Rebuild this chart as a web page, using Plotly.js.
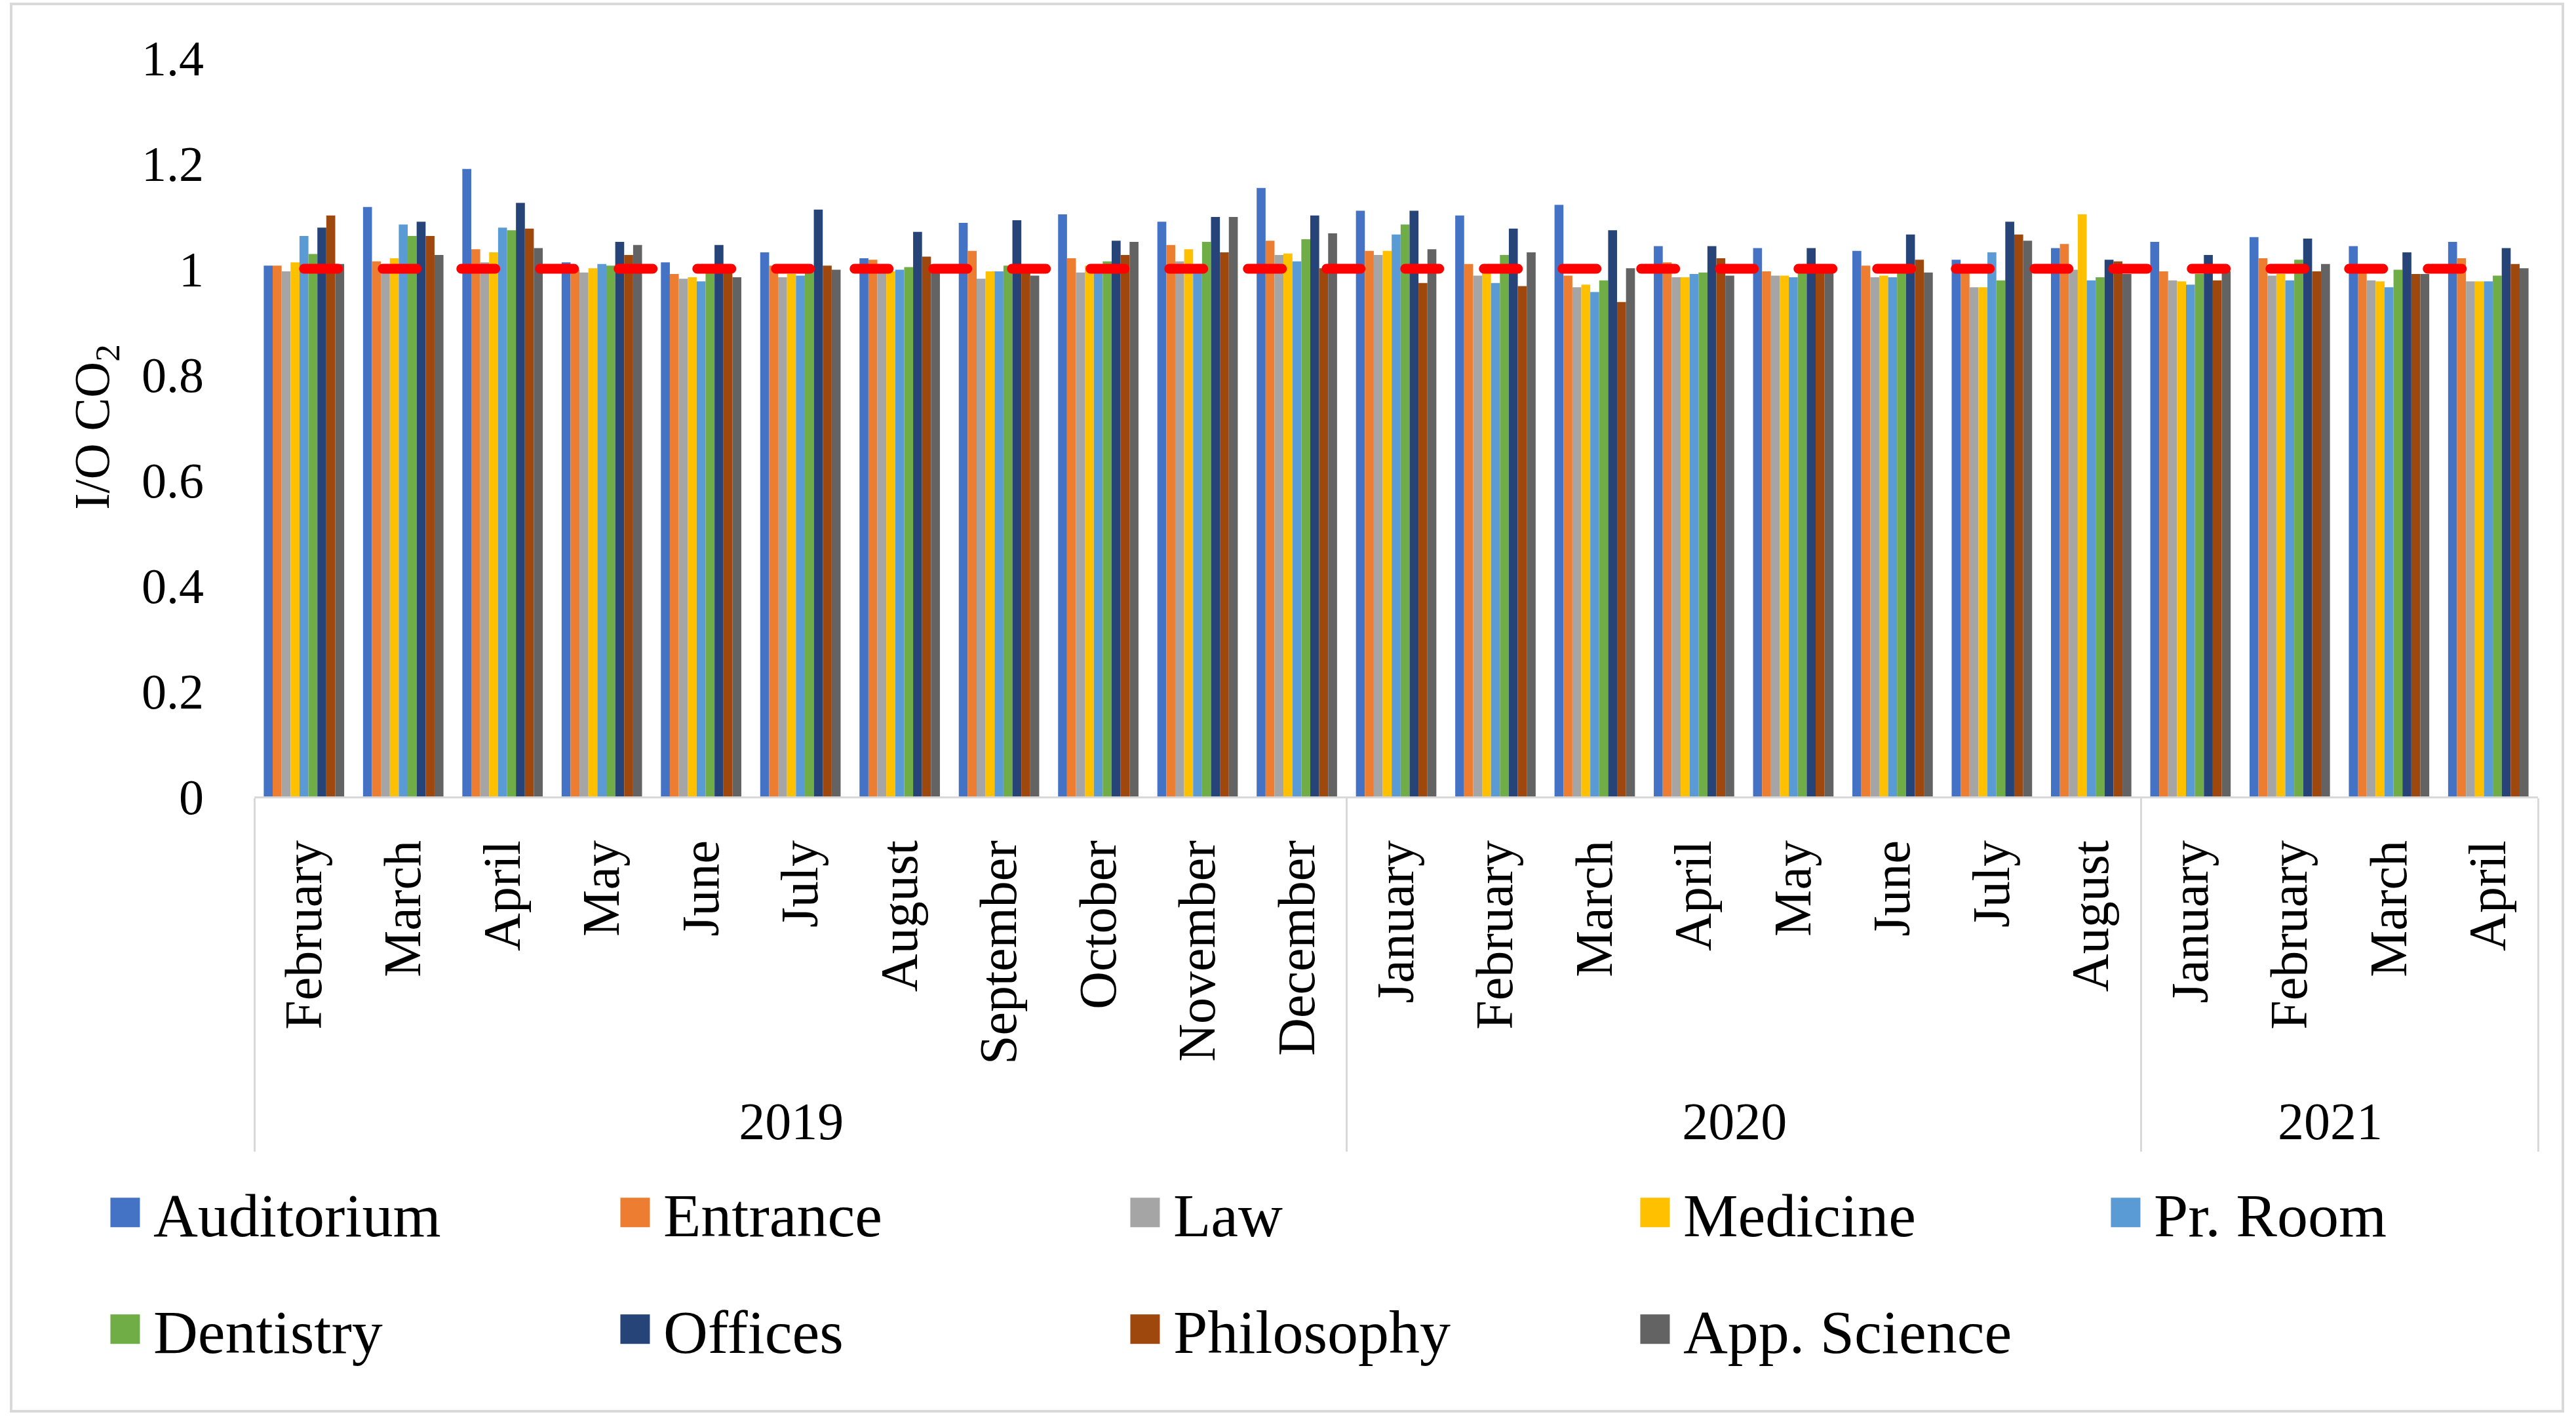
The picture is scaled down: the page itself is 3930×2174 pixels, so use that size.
<!DOCTYPE html>
<html>
<head>
<meta charset="utf-8">
<script src="https://cdn.plot.ly/plotly-3.0.1.min.js"></script>
<style>
  html, body { margin: 0; padding: 0; background: #fff; }
  #divPlot { width: 3930px; height: 2174px; }
  #frame { position: absolute; left: 15px; top: 4px; width: 3897px; height: 2151px;
           border: 4px solid #d9d9d9; box-sizing: border-box; pointer-events: none; }
</style>
</head>
<body>
<div id="divPlot"></div>
<div id="frame"></div>
<script>
// outer / inner category levels
const years = ['2019', '2019', '2019', '2019', '2019', '2019', '2019', '2019', '2019', '2019', '2019',
               '2020', '2020', '2020', '2020', '2020', '2020', '2020', '2020',
               '2021', '2021', '2021', '2021'];
const months = ['February', 'March', 'April', 'May', 'June', 'July', 'August', 'September', 'October',
                'November', 'December',
                'January', 'February', 'March', 'April', 'May', 'June', 'July', 'August',
                'January', 'February', 'March', 'April'];

// I/O CO2 ratio per building
const auditorium = [1.006, 1.117, 1.189, 1.012, 1.012, 1.031, 1.020, 1.087, 1.103, 1.089, 1.153,
                    1.110, 1.101, 1.121, 1.043, 1.039, 1.034, 1.017, 1.039, 1.051, 1.060, 1.043, 1.051];
const entrance   = [1.006, 1.014, 1.037, 0.998, 0.990, 1.006, 1.017, 1.034, 1.020, 1.045, 1.053,
                    1.034, 1.009, 0.987, 1.012, 0.995, 1.006, 0.995, 1.047, 0.995, 1.020, 1.003, 1.020];
const law        = [0.995, 0.998, 1.012, 0.993, 0.981, 0.984, 0.998, 0.981, 0.993, 1.014, 1.026,
                    1.026, 0.987, 0.965, 0.984, 0.987, 0.984, 0.965, 0.998, 0.978, 0.987, 0.978, 0.976];
const medicine   = [1.012, 1.020, 1.031, 1.001, 0.984, 0.990, 0.995, 0.995, 1.006, 1.037, 1.029,
                    1.034, 0.995, 0.970, 0.984, 0.987, 0.987, 0.965, 1.103, 0.976, 0.990, 0.976, 0.976];
const prRoom     = [1.062, 1.084, 1.078, 1.009, 0.976, 0.987, 0.998, 0.995, 0.998, 0.998, 1.014,
                    1.065, 0.973, 0.956, 0.990, 0.984, 0.984, 1.031, 0.978, 0.970, 0.978, 0.965, 0.976];
const dentistry  = [1.028, 1.062, 1.073, 1.006, 0.995, 0.995, 1.003, 1.006, 1.014, 1.051, 1.056,
                    1.084, 1.026, 0.978, 0.993, 0.993, 0.995, 0.978, 0.984, 0.990, 1.017, 0.998, 0.987];
const offices    = [1.078, 1.089, 1.125, 1.051, 1.045, 1.112, 1.070, 1.092, 1.053, 1.098, 1.101,
                    1.110, 1.076, 1.073, 1.043, 1.039, 1.065, 1.089, 1.017, 1.026, 1.057, 1.031, 1.039];
const philosophy = [1.101, 1.062, 1.076, 1.026, 0.995, 1.006, 1.023, 0.995, 1.026, 1.031, 1.001,
                    0.973, 0.967, 0.937, 1.020, 0.995, 1.017, 1.065, 1.014, 0.978, 0.995, 0.990, 1.009];
const appScience = [1.009, 1.026, 1.039, 1.045, 0.984, 0.998, 0.998, 0.987, 1.051, 1.098, 1.067,
                    1.037, 1.031, 1.001, 0.987, 0.995, 0.993, 1.053, 0.990, 0.995, 1.009, 0.990, 1.001];
// reference level I/O = 1
const reference  = [1, 1, 1, 1, 1, 1, 1, 1, 1, 1, 1, 1, 1, 1, 1, 1, 1, 1, 1, 1, 1, 1, 1];

const seriesNames = ['Auditorium', 'Entrance', 'Law', 'Medicine', 'Pr. Room',
                     'Dentistry', 'Offices', 'Philosophy', 'App. Science'];
const seriesValues = [auditorium, entrance, law, medicine, prRoom,
                      dentistry, offices, philosophy, appScience];
const seriesColors = ['#4472C4', '#ED7D31', '#A5A5A5', '#FFC000', '#5B9BD5',
                      '#70AD47', '#264478', '#9E480E', '#636363'];
// legend row/column of each series (5 columns, last one of row 1 kept apart so it fits)
const seriesLegend = ['legend', 'legend', 'legend', 'legend', 'legend3',
                      'legend2', 'legend2', 'legend2', 'legend2'];

const FONT = '"Liberation Serif", "DejaVu Serif", serif';

// multicategory orders inner labels by first appearance over all years,
// so repeated month names get an invisible zero-width suffix per year
const yearList = ['2019', '2020', '2021'];
const monthKeys = months.map((m, i) => m + '\u200B'.repeat(yearList.indexOf(years[i])));
const xCats = [years, monthKeys];

const data = seriesNames.map((name, i) => ({
  type : 'bar',
  name : name,
  x : xCats,
  y : seriesValues[i],
  marker : {color : seriesColors[i], line : {width : 0}},
  legend : seriesLegend[i]
}));

data.push({
  type : 'scatter',
  mode : 'lines',
  x : xCats,
  y : reference,
  line : {color : '#FF0000', width : 15, dash : '52px,68px'},
  showlegend : false,
  hoverinfo : 'skip'
});

const legendX = -0.0689;
const colStep = 763 / 3484;
const legendBase = {
  orientation : 'h',
  xanchor : 'left',
  yanchor : 'middle',
  x : legendX,
  entrywidth : 687,
  entrywidthmode : 'pixels',
  itemwidth : 76,
  font : {family : FONT, size : 94, color : '#000'},
  bgcolor : 'rgba(0,0,0,0)'
};

const layout = {
  width : 3930,
  height : 2174,
  margin : {l : 388, r : 58, t : 88, b : 959},
  paper_bgcolor : '#fff',
  plot_bgcolor : '#fff',
  barmode : 'group',
  bargap : 0.19,
  bargroupgap : 0,
  font : {family : FONT, color : '#000'},
  xaxis : {
    type : 'multicategory',
    tickangle : -90,
    tickfont : {family : FONT, size : 80, color : '#000'},
    ticklabelstandoff : 32,
    showline : true,
    linecolor : '#D9D9D9',
    linewidth : 3,
    showdividers : true,
    dividercolor : '#D9D9D9',
    dividerwidth : 3,
    ticks : '',
    showgrid : false
  },
  yaxis : {
    range : [0, 1.4],
    tick0 : 0,
    dtick : 0.2,
    showgrid : false,
    zeroline : false,
    showline : false,
    ticks : '',
    ticklabelstandoff : 76,
    tickfont : {family : FONT, size : 76, color : '#000'},
    title : {text : 'I/O CO<sub>2</sub>', font : {family : FONT, size : 76, color : '#000'}, standoff : 24}
  },
  legend : Object.assign({}, legendBase, {y : -0.5635}),
  legend2 : Object.assign({}, legendBase, {y : -0.7215}),
  legend3 : Object.assign({}, legendBase, {y : -0.5635, x : legendX + 4 * colStep, entrywidth : 0})
};

Plotly.newPlot('divPlot', data, layout, {staticPlot : true}).then(gd => {
  // bigger legend swatches, round caps on the dashed reference line
  gd.querySelectorAll('.legendpoints path').forEach(p => {
    const t = p.getAttribute('transform') || '';
    p.setAttribute('transform', t + ' scale(3.75)');
  });
  gd.querySelectorAll('.scatterlayer .js-line').forEach(p => {
    p.style.strokeLinecap = 'round';
  });
});
</script>
</body>
</html>
